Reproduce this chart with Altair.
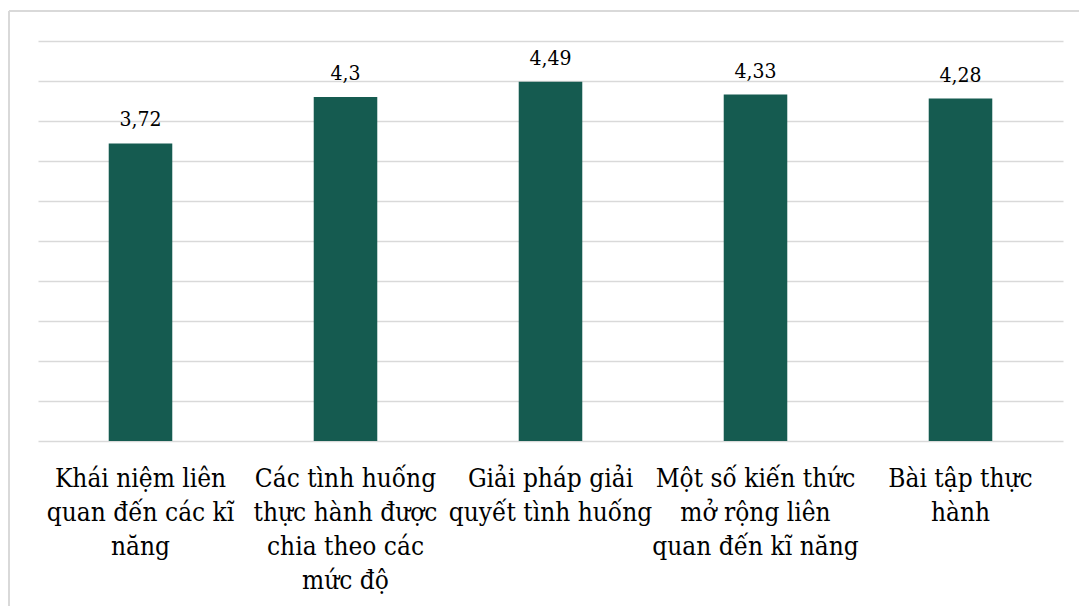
import altair as alt
import pandas as pd

# Mean ratings for each content group (5-point scale)
categories = [
    "Khái niệm liên|quan đến các kĩ|năng",
    "Các tình huống|thực hành được|chia theo các|mức độ",
    "Giải pháp giải|quyết tình huống",
    "Một số kiến thức|mở rộng liên|quan đến kĩ năng",
    "Bài tập thực|hành",
]
scores = [3.72, 4.3, 4.49, 4.33, 4.28]
grid_values = [0, 0.5, 1, 1.5, 2, 2.5, 3, 3.5, 4, 4.5, 5]

df = pd.DataFrame({"cat": categories, "score": scores})

W, H = 1025, 400
FONT = "DejaVu Serif Condensed, DejaVu Serif, serif"
BAR = "#155b50"
LINE = "#d9d9d9"

x_enc = alt.X(
    "cat:N",
    sort=categories,
    scale=alt.Scale(paddingInner=0.69, paddingOuter=0.345),
    axis=alt.Axis(
        title=None,
        labelAngle=0,
        labelExpr="split(datum.label, '|')",
        labelFont=FONT,
        labelFontSize=26,
        labelColor="#000000",
        labelLineHeight=34,
        labelPadding=24,
        labelBaseline="top",
        labelLimit=400,
        domain=False,
        ticks=False,
        tickSize=0,
        grid=False,
    ),
)
y_enc = alt.Y(
    "score:Q",
    scale=alt.Scale(domain=[0, 5], nice=False),
    axis=alt.Axis(
        title=None,
        values=grid_values,
        labels=False,
        domain=False,
        ticks=False,
        grid=True,
        gridColor=LINE,
        gridWidth=1.5,
    ),
)

base = alt.Chart(df)

bars = base.mark_bar(color=BAR).encode(x=x_enc, y=y_enc)

values = base.transform_calculate(
    txt="replace(toString(datum.score), '.', ',')"
).mark_text(
    font=FONT, fontSize=21, color="#000000", baseline="alphabetic", dy=-17
).encode(x=x_enc, y=y_enc, text="txt:N")

# Light frame around the chart area
frame_top = alt.Chart(df).mark_rule(color=LINE, strokeWidth=2).encode(
    x=alt.value(-29), x2=alt.value(1100), y=alt.value(-30)
)
frame_left = alt.Chart(df).mark_rule(color=LINE, strokeWidth=2).encode(
    x=alt.value(-29), y=alt.value(-30), y2=alt.value(620)
)

chart = (
    alt.layer(bars, values, frame_top, frame_left)
    .properties(
        width=W,
        height=H,
        autosize=alt.AutoSizeParams(type="none"),
        padding={"left": 38, "top": 41, "right": 16, "bottom": 165},
        background="#ffffff",
    )
    .configure_view(stroke=None)
)

chart.save("out.html", embed_options={"renderer": "svg", "actions": False})
